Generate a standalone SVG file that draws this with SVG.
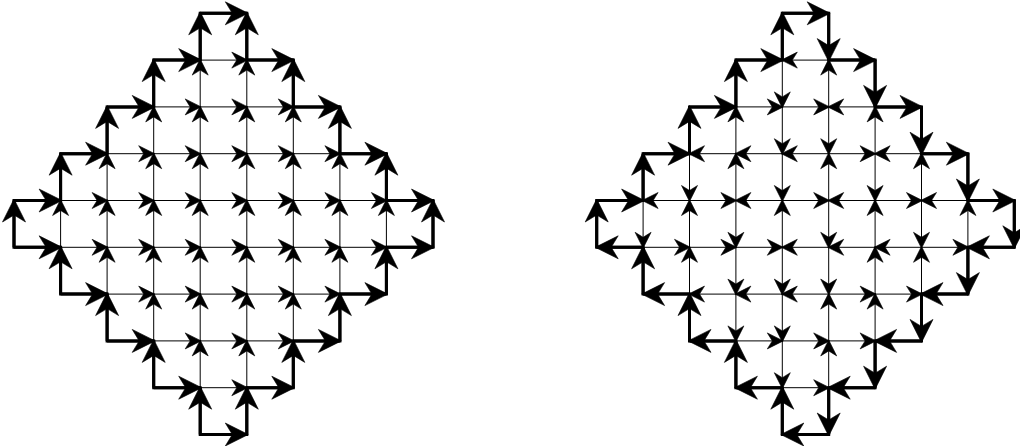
<svg xmlns="http://www.w3.org/2000/svg" width="1020" height="446" viewBox="0 0 1020 446">
<defs>
<marker id="ms" markerUnits="userSpaceOnUse" orient="auto" overflow="visible" markerWidth="1" markerHeight="1"><path d="M1,0 L-15,-8 L-10,0 L-15,8 Z" fill="#000" stroke="#000" stroke-width="0.6" stroke-linejoin="miter"/></marker>
<marker id="ml" markerUnits="userSpaceOnUse" orient="auto" overflow="visible" markerWidth="1" markerHeight="1"><path d="M1.5,0 L-21.5,-11.5 L-14.5,0 L-21.5,11.5 Z" fill="#000" stroke="#000" stroke-width="0.6" stroke-linejoin="miter"/></marker>
</defs>
<style>
.t{stroke:#000;stroke-width:1;fill:none;marker-end:url(#ms)}
.k{stroke:#000;stroke-width:3;fill:none;marker-end:url(#ml)}
.b{stroke:#000;stroke-width:3;fill:none;stroke-linejoin:miter}
</style>
<rect width="1020" height="446" fill="#fff"/>
<g id="left-diagram">
<g id="left-thin-edges">
<line class="t" x1="200.2" y1="60.1" x2="246.8" y2="60.1"/>
<line class="t" x1="153.7" y1="106.9" x2="200.2" y2="106.9"/>
<line class="t" x1="200.2" y1="106.9" x2="246.8" y2="106.9"/>
<line class="t" x1="246.8" y1="106.9" x2="293.3" y2="106.9"/>
<line class="t" x1="107.1" y1="153.7" x2="153.7" y2="153.7"/>
<line class="t" x1="153.7" y1="153.7" x2="200.2" y2="153.7"/>
<line class="t" x1="200.2" y1="153.7" x2="246.8" y2="153.7"/>
<line class="t" x1="246.8" y1="153.7" x2="293.3" y2="153.7"/>
<line class="t" x1="293.3" y1="153.7" x2="339.9" y2="153.7"/>
<line class="t" x1="60.6" y1="200.5" x2="107.1" y2="200.5"/>
<line class="t" x1="107.1" y1="200.5" x2="153.7" y2="200.5"/>
<line class="t" x1="153.7" y1="200.5" x2="200.2" y2="200.5"/>
<line class="t" x1="200.2" y1="200.5" x2="246.8" y2="200.5"/>
<line class="t" x1="246.8" y1="200.5" x2="293.3" y2="200.5"/>
<line class="t" x1="293.3" y1="200.5" x2="339.9" y2="200.5"/>
<line class="t" x1="339.9" y1="200.5" x2="386.4" y2="200.5"/>
<line class="t" x1="60.6" y1="247.3" x2="107.1" y2="247.3"/>
<line class="t" x1="107.1" y1="247.3" x2="153.7" y2="247.3"/>
<line class="t" x1="153.7" y1="247.3" x2="200.2" y2="247.3"/>
<line class="t" x1="200.2" y1="247.3" x2="246.8" y2="247.3"/>
<line class="t" x1="246.8" y1="247.3" x2="293.3" y2="247.3"/>
<line class="t" x1="293.3" y1="247.3" x2="339.9" y2="247.3"/>
<line class="t" x1="339.9" y1="247.3" x2="386.4" y2="247.3"/>
<line class="t" x1="107.1" y1="294.1" x2="153.7" y2="294.1"/>
<line class="t" x1="153.7" y1="294.1" x2="200.2" y2="294.1"/>
<line class="t" x1="200.2" y1="294.1" x2="246.8" y2="294.1"/>
<line class="t" x1="246.8" y1="294.1" x2="293.3" y2="294.1"/>
<line class="t" x1="293.3" y1="294.1" x2="339.9" y2="294.1"/>
<line class="t" x1="153.7" y1="340.9" x2="200.2" y2="340.9"/>
<line class="t" x1="200.2" y1="340.9" x2="246.8" y2="340.9"/>
<line class="t" x1="246.8" y1="340.9" x2="293.3" y2="340.9"/>
<line class="t" x1="200.2" y1="387.7" x2="246.8" y2="387.7"/>
<line class="t" x1="60.6" y1="247.3" x2="60.6" y2="200.5"/>
<line class="t" x1="107.1" y1="200.5" x2="107.1" y2="153.7"/>
<line class="t" x1="107.1" y1="247.3" x2="107.1" y2="200.5"/>
<line class="t" x1="107.1" y1="294.1" x2="107.1" y2="247.3"/>
<line class="t" x1="153.7" y1="153.7" x2="153.7" y2="106.9"/>
<line class="t" x1="153.7" y1="200.5" x2="153.7" y2="153.7"/>
<line class="t" x1="153.7" y1="247.3" x2="153.7" y2="200.5"/>
<line class="t" x1="153.7" y1="294.1" x2="153.7" y2="247.3"/>
<line class="t" x1="153.7" y1="340.9" x2="153.7" y2="294.1"/>
<line class="t" x1="200.2" y1="106.9" x2="200.2" y2="60.1"/>
<line class="t" x1="200.2" y1="153.7" x2="200.2" y2="106.9"/>
<line class="t" x1="200.2" y1="200.5" x2="200.2" y2="153.7"/>
<line class="t" x1="200.2" y1="247.3" x2="200.2" y2="200.5"/>
<line class="t" x1="200.2" y1="294.1" x2="200.2" y2="247.3"/>
<line class="t" x1="200.2" y1="340.9" x2="200.2" y2="294.1"/>
<line class="t" x1="200.2" y1="387.7" x2="200.2" y2="340.9"/>
<line class="t" x1="246.8" y1="106.9" x2="246.8" y2="60.1"/>
<line class="t" x1="246.8" y1="153.7" x2="246.8" y2="106.9"/>
<line class="t" x1="246.8" y1="200.5" x2="246.8" y2="153.7"/>
<line class="t" x1="246.8" y1="247.3" x2="246.8" y2="200.5"/>
<line class="t" x1="246.8" y1="294.1" x2="246.8" y2="247.3"/>
<line class="t" x1="246.8" y1="340.9" x2="246.8" y2="294.1"/>
<line class="t" x1="246.8" y1="387.7" x2="246.8" y2="340.9"/>
<line class="t" x1="293.3" y1="153.7" x2="293.3" y2="106.9"/>
<line class="t" x1="293.3" y1="200.5" x2="293.3" y2="153.7"/>
<line class="t" x1="293.3" y1="247.3" x2="293.3" y2="200.5"/>
<line class="t" x1="293.3" y1="294.1" x2="293.3" y2="247.3"/>
<line class="t" x1="293.3" y1="340.9" x2="293.3" y2="294.1"/>
<line class="t" x1="339.9" y1="200.5" x2="339.9" y2="153.7"/>
<line class="t" x1="339.9" y1="247.3" x2="339.9" y2="200.5"/>
<line class="t" x1="339.9" y1="294.1" x2="339.9" y2="247.3"/>
<line class="t" x1="386.4" y1="247.3" x2="386.4" y2="200.5"/>
</g>
<g id="left-boundary">
<polygon class="b" points="200.2,13.3 246.8,13.3 246.8,60.1 293.3,60.1 293.3,106.9 339.9,106.9 339.9,153.7 386.4,153.7 386.4,200.5 433,200.5 433,247.3 386.4,247.3 386.4,294.1 339.9,294.1 339.9,340.9 293.3,340.9 293.3,387.7 246.8,387.7 246.8,434.5 200.2,434.5 200.2,387.7 153.7,387.7 153.7,340.9 107.1,340.9 107.1,294.1 60.6,294.1 60.6,247.3 14,247.3 14,200.5 60.6,200.5 60.6,153.7 107.1,153.7 107.1,106.9 153.7,106.9 153.7,60.1 200.2,60.1"/>
<line class="k" x1="200.2" y1="13.3" x2="246.8" y2="13.3"/>
<line class="k" x1="153.7" y1="60.1" x2="200.2" y2="60.1"/>
<line class="k" x1="246.8" y1="60.1" x2="293.3" y2="60.1"/>
<line class="k" x1="107.1" y1="106.9" x2="153.7" y2="106.9"/>
<line class="k" x1="293.3" y1="106.9" x2="339.9" y2="106.9"/>
<line class="k" x1="60.6" y1="153.7" x2="107.1" y2="153.7"/>
<line class="k" x1="339.9" y1="153.7" x2="386.4" y2="153.7"/>
<line class="k" x1="14" y1="200.5" x2="60.6" y2="200.5"/>
<line class="k" x1="386.4" y1="200.5" x2="433" y2="200.5"/>
<line class="k" x1="14" y1="247.3" x2="60.6" y2="247.3"/>
<line class="k" x1="386.4" y1="247.3" x2="433" y2="247.3"/>
<line class="k" x1="60.6" y1="294.1" x2="107.1" y2="294.1"/>
<line class="k" x1="339.9" y1="294.1" x2="386.4" y2="294.1"/>
<line class="k" x1="107.1" y1="340.9" x2="153.7" y2="340.9"/>
<line class="k" x1="293.3" y1="340.9" x2="339.9" y2="340.9"/>
<line class="k" x1="153.7" y1="387.7" x2="200.2" y2="387.7"/>
<line class="k" x1="246.8" y1="387.7" x2="293.3" y2="387.7"/>
<line class="k" x1="200.2" y1="434.5" x2="246.8" y2="434.5"/>
<line class="k" x1="14" y1="247.3" x2="14" y2="200.5"/>
<line class="k" x1="60.6" y1="200.5" x2="60.6" y2="153.7"/>
<line class="k" x1="60.6" y1="294.1" x2="60.6" y2="247.3"/>
<line class="k" x1="107.1" y1="153.7" x2="107.1" y2="106.9"/>
<line class="k" x1="107.1" y1="340.9" x2="107.1" y2="294.1"/>
<line class="k" x1="153.7" y1="106.9" x2="153.7" y2="60.1"/>
<line class="k" x1="153.7" y1="387.7" x2="153.7" y2="340.9"/>
<line class="k" x1="200.2" y1="60.1" x2="200.2" y2="13.3"/>
<line class="k" x1="200.2" y1="434.5" x2="200.2" y2="387.7"/>
<line class="k" x1="246.8" y1="60.1" x2="246.8" y2="13.3"/>
<line class="k" x1="246.8" y1="434.5" x2="246.8" y2="387.7"/>
<line class="k" x1="293.3" y1="106.9" x2="293.3" y2="60.1"/>
<line class="k" x1="293.3" y1="387.7" x2="293.3" y2="340.9"/>
<line class="k" x1="339.9" y1="153.7" x2="339.9" y2="106.9"/>
<line class="k" x1="339.9" y1="340.9" x2="339.9" y2="294.1"/>
<line class="k" x1="386.4" y1="200.5" x2="386.4" y2="153.7"/>
<line class="k" x1="386.4" y1="294.1" x2="386.4" y2="247.3"/>
<line class="k" x1="433" y1="247.3" x2="433" y2="200.5"/>
</g>
</g>
<g id="right-diagram">
<g id="right-thin-edges">
<line class="t" x1="828.7" y1="60.1" x2="782.3" y2="60.1"/>
<line class="t" x1="735.9" y1="106.9" x2="782.3" y2="106.9"/>
<line class="t" x1="782.3" y1="106.9" x2="828.7" y2="106.9"/>
<line class="t" x1="875.1" y1="106.9" x2="828.7" y2="106.9"/>
<line class="t" x1="735.9" y1="153.7" x2="689.5" y2="153.7"/>
<line class="t" x1="782.3" y1="153.7" x2="735.9" y2="153.7"/>
<line class="t" x1="828.7" y1="153.7" x2="782.3" y2="153.7"/>
<line class="t" x1="828.7" y1="153.7" x2="875.1" y2="153.7"/>
<line class="t" x1="921.5" y1="153.7" x2="875.1" y2="153.7"/>
<line class="t" x1="689.5" y1="200.5" x2="643.1" y2="200.5"/>
<line class="t" x1="689.5" y1="200.5" x2="735.9" y2="200.5"/>
<line class="t" x1="782.3" y1="200.5" x2="735.9" y2="200.5"/>
<line class="t" x1="782.3" y1="200.5" x2="828.7" y2="200.5"/>
<line class="t" x1="875.1" y1="200.5" x2="828.7" y2="200.5"/>
<line class="t" x1="875.1" y1="200.5" x2="921.5" y2="200.5"/>
<line class="t" x1="967.9" y1="200.5" x2="921.5" y2="200.5"/>
<line class="t" x1="643.1" y1="247.3" x2="689.5" y2="247.3"/>
<line class="t" x1="689.5" y1="247.3" x2="735.9" y2="247.3"/>
<line class="t" x1="735.9" y1="247.3" x2="782.3" y2="247.3"/>
<line class="t" x1="828.7" y1="247.3" x2="782.3" y2="247.3"/>
<line class="t" x1="875.1" y1="247.3" x2="828.7" y2="247.3"/>
<line class="t" x1="921.5" y1="247.3" x2="875.1" y2="247.3"/>
<line class="t" x1="921.5" y1="247.3" x2="967.9" y2="247.3"/>
<line class="t" x1="735.9" y1="294.1" x2="689.5" y2="294.1"/>
<line class="t" x1="782.3" y1="294.1" x2="735.9" y2="294.1"/>
<line class="t" x1="828.7" y1="294.1" x2="782.3" y2="294.1"/>
<line class="t" x1="828.7" y1="294.1" x2="875.1" y2="294.1"/>
<line class="t" x1="875.1" y1="294.1" x2="921.5" y2="294.1"/>
<line class="t" x1="735.9" y1="340.9" x2="782.3" y2="340.9"/>
<line class="t" x1="782.3" y1="340.9" x2="828.7" y2="340.9"/>
<line class="t" x1="828.7" y1="340.9" x2="875.1" y2="340.9"/>
<line class="t" x1="782.3" y1="387.7" x2="828.7" y2="387.7"/>
<line class="t" x1="643.1" y1="200.5" x2="643.1" y2="247.3"/>
<line class="t" x1="689.5" y1="153.7" x2="689.5" y2="200.5"/>
<line class="t" x1="689.5" y1="247.3" x2="689.5" y2="200.5"/>
<line class="t" x1="689.5" y1="294.1" x2="689.5" y2="247.3"/>
<line class="t" x1="735.9" y1="153.7" x2="735.9" y2="106.9"/>
<line class="t" x1="735.9" y1="200.5" x2="735.9" y2="153.7"/>
<line class="t" x1="735.9" y1="200.5" x2="735.9" y2="247.3"/>
<line class="t" x1="735.9" y1="247.3" x2="735.9" y2="294.1"/>
<line class="t" x1="735.9" y1="294.1" x2="735.9" y2="340.9"/>
<line class="t" x1="782.3" y1="60.1" x2="782.3" y2="106.9"/>
<line class="t" x1="782.3" y1="106.9" x2="782.3" y2="153.7"/>
<line class="t" x1="782.3" y1="153.7" x2="782.3" y2="200.5"/>
<line class="t" x1="782.3" y1="247.3" x2="782.3" y2="200.5"/>
<line class="t" x1="782.3" y1="247.3" x2="782.3" y2="294.1"/>
<line class="t" x1="782.3" y1="294.1" x2="782.3" y2="340.9"/>
<line class="t" x1="782.3" y1="340.9" x2="782.3" y2="387.7"/>
<line class="t" x1="828.7" y1="106.9" x2="828.7" y2="60.1"/>
<line class="t" x1="828.7" y1="106.9" x2="828.7" y2="153.7"/>
<line class="t" x1="828.7" y1="200.5" x2="828.7" y2="153.7"/>
<line class="t" x1="828.7" y1="200.5" x2="828.7" y2="247.3"/>
<line class="t" x1="828.7" y1="247.3" x2="828.7" y2="294.1"/>
<line class="t" x1="828.7" y1="340.9" x2="828.7" y2="294.1"/>
<line class="t" x1="828.7" y1="387.7" x2="828.7" y2="340.9"/>
<line class="t" x1="875.1" y1="153.7" x2="875.1" y2="106.9"/>
<line class="t" x1="875.1" y1="153.7" x2="875.1" y2="200.5"/>
<line class="t" x1="875.1" y1="247.3" x2="875.1" y2="200.5"/>
<line class="t" x1="875.1" y1="294.1" x2="875.1" y2="247.3"/>
<line class="t" x1="875.1" y1="340.9" x2="875.1" y2="294.1"/>
<line class="t" x1="921.5" y1="200.5" x2="921.5" y2="153.7"/>
<line class="t" x1="921.5" y1="200.5" x2="921.5" y2="247.3"/>
<line class="t" x1="921.5" y1="294.1" x2="921.5" y2="247.3"/>
<line class="t" x1="967.9" y1="247.3" x2="967.9" y2="200.5"/>
</g>
<g id="right-boundary">
<polygon class="b" points="782.3,13.3 828.7,13.3 828.7,60.1 875.1,60.1 875.1,106.9 921.5,106.9 921.5,153.7 967.9,153.7 967.9,200.5 1014.3,200.5 1014.3,247.3 967.9,247.3 967.9,294.1 921.5,294.1 921.5,340.9 875.1,340.9 875.1,387.7 828.7,387.7 828.7,434.5 782.3,434.5 782.3,387.7 735.9,387.7 735.9,340.9 689.5,340.9 689.5,294.1 643.1,294.1 643.1,247.3 596.7,247.3 596.7,200.5 643.1,200.5 643.1,153.7 689.5,153.7 689.5,106.9 735.9,106.9 735.9,60.1 782.3,60.1"/>
<line class="k" x1="782.3" y1="13.3" x2="828.7" y2="13.3"/>
<line class="k" x1="735.9" y1="60.1" x2="782.3" y2="60.1"/>
<line class="k" x1="828.7" y1="60.1" x2="875.1" y2="60.1"/>
<line class="k" x1="689.5" y1="106.9" x2="735.9" y2="106.9"/>
<line class="k" x1="875.1" y1="106.9" x2="921.5" y2="106.9"/>
<line class="k" x1="643.1" y1="153.7" x2="689.5" y2="153.7"/>
<line class="k" x1="921.5" y1="153.7" x2="967.9" y2="153.7"/>
<line class="k" x1="596.7" y1="200.5" x2="643.1" y2="200.5"/>
<line class="k" x1="967.9" y1="200.5" x2="1014.3" y2="200.5"/>
<line class="k" x1="643.1" y1="247.3" x2="596.7" y2="247.3"/>
<line class="k" x1="1014.3" y1="247.3" x2="967.9" y2="247.3"/>
<line class="k" x1="689.5" y1="294.1" x2="643.1" y2="294.1"/>
<line class="k" x1="967.9" y1="294.1" x2="921.5" y2="294.1"/>
<line class="k" x1="735.9" y1="340.9" x2="689.5" y2="340.9"/>
<line class="k" x1="921.5" y1="340.9" x2="875.1" y2="340.9"/>
<line class="k" x1="782.3" y1="387.7" x2="735.9" y2="387.7"/>
<line class="k" x1="875.1" y1="387.7" x2="828.7" y2="387.7"/>
<line class="k" x1="828.7" y1="434.5" x2="782.3" y2="434.5"/>
<line class="k" x1="596.7" y1="247.3" x2="596.7" y2="200.5"/>
<line class="k" x1="643.1" y1="200.5" x2="643.1" y2="153.7"/>
<line class="k" x1="643.1" y1="294.1" x2="643.1" y2="247.3"/>
<line class="k" x1="689.5" y1="153.7" x2="689.5" y2="106.9"/>
<line class="k" x1="689.5" y1="340.9" x2="689.5" y2="294.1"/>
<line class="k" x1="735.9" y1="106.9" x2="735.9" y2="60.1"/>
<line class="k" x1="735.9" y1="387.7" x2="735.9" y2="340.9"/>
<line class="k" x1="782.3" y1="60.1" x2="782.3" y2="13.3"/>
<line class="k" x1="782.3" y1="434.5" x2="782.3" y2="387.7"/>
<line class="k" x1="828.7" y1="13.3" x2="828.7" y2="60.1"/>
<line class="k" x1="828.7" y1="387.7" x2="828.7" y2="434.5"/>
<line class="k" x1="875.1" y1="60.1" x2="875.1" y2="106.9"/>
<line class="k" x1="875.1" y1="340.9" x2="875.1" y2="387.7"/>
<line class="k" x1="921.5" y1="106.9" x2="921.5" y2="153.7"/>
<line class="k" x1="921.5" y1="294.1" x2="921.5" y2="340.9"/>
<line class="k" x1="967.9" y1="153.7" x2="967.9" y2="200.5"/>
<line class="k" x1="967.9" y1="247.3" x2="967.9" y2="294.1"/>
<line class="k" x1="1014.3" y1="200.5" x2="1014.3" y2="247.3"/>
</g>
</g>
</svg>
